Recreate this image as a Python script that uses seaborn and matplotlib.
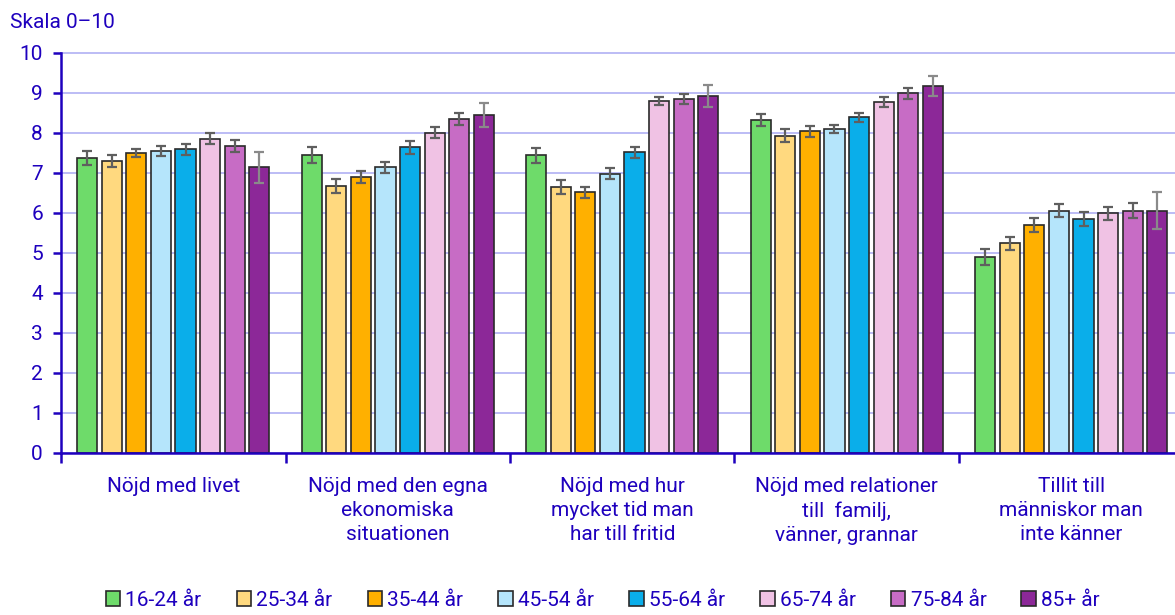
import numpy as np
import pandas as pd
import matplotlib
matplotlib.use("Agg")
import matplotlib.pyplot as plt
import seaborn as sns

sns.set_theme(style="white")
plt.rcParams['font.family'] = ['Roboto', 'DejaVu Sans']

# data (mean and half-width of error bar)
categories = ["Nöjd med livet",
              "Nöjd med den egna\nekonomiska\nsituationen",
              "Nöjd med hur\nmycket tid man\nhar till fritid",
              "Nöjd med relationer\ntill  familj,\nvänner, grannar",
              "Tillit till\nmänniskor man\ninte känner"]
age_groups = ["16-24 år", "25-34 år", "35-44 år", "45-54 år",
              "55-64 år", "65-74 år", "75-84 år", "85+ år"]

values = {
    "16-24 år": [7.37, 7.44, 7.44, 8.32, 4.91],
    "25-34 år": [7.29, 6.68, 6.65, 7.93, 5.24],
    "35-44 år": [7.49, 6.91, 6.52, 8.04, 5.70],
    "45-54 år": [7.55, 7.14, 6.98, 8.09, 6.06],
    "55-64 år": [7.59, 7.64, 7.52, 8.39, 5.85],
    "65-74 år": [7.86, 8.01, 8.80, 8.78, 5.99],
    "75-84 år": [7.68, 8.36, 8.85, 8.99, 6.06],
    "85+ år":   [7.14, 8.44, 8.93, 9.17, 6.06],
}
errors = {
    "16-24 år": [0.17, 0.20, 0.18, 0.15, 0.20],
    "25-34 år": [0.15, 0.18, 0.17, 0.16, 0.17],
    "35-44 år": [0.10, 0.15, 0.14, 0.13, 0.18],
    "45-54 år": [0.12, 0.14, 0.14, 0.10, 0.17],
    "55-64 år": [0.13, 0.16, 0.14, 0.12, 0.17],
    "65-74 år": [0.13, 0.13, 0.10, 0.12, 0.16],
    "75-84 år": [0.15, 0.15, 0.12, 0.13, 0.18],
    "85+ år":   [0.39, 0.30, 0.28, 0.25, 0.46],
}
colors = ["#6EDB6A", "#FFD97F", "#FFB000", "#B5E5FB",
          "#0AAEEA", "#F0C2E4", "#C76CC5", "#8C2898"]

text_col = "#1E00BE"
grid_col = "#A9A9F2"
fs = 15

rows = []
for ag in age_groups:
    for c, v in zip(categories, values[ag]):
        rows.append({"kategori": c, "alder": ag, "varde": v})
df = pd.DataFrame(rows)

fig = plt.figure(figsize=(11.75, 6.15), dpi=100)
W, H = 1175, 615
ax = fig.add_axes([61 / W, (H - 453) / H, (1183.5 - 61) / W, 400 / H])

sns.barplot(data=df, x="kategori", y="varde", hue="alder",
            hue_order=age_groups, order=categories, palette=colors,
            saturation=1, errorbar=None, width=0.875, gap=0.18,
            edgecolor="#2a2a2a", linewidth=1.2, ax=ax)

for ag, cont in zip(age_groups, ax.containers):
    xs = [b.get_x() + b.get_width() / 2 for b in cont]
    ys = [b.get_height() for b in cont]
    ecol = "#8a8a8a" if ag == "85+ år" else "#5f5f5f"
    ax.errorbar(xs, ys, yerr=errors[ag], fmt="none", ecolor=ecol,
                elinewidth=1.6, capsize=3.5, capthick=1.6, zorder=5)

ax.set_ylim(0, 10)
ax.set_xlim(-0.5, 4.5)
ax.set_yticks(range(0, 11))
ax.yaxis.grid(True, color=grid_col, linewidth=1.1)
for gl in ax.get_ygridlines():
    gl.set_clip_on(False)
ax.set_axisbelow(True)
ax.set_xlabel("")
ax.set_ylabel("")

for s in ["top", "right"]:
    ax.spines[s].set_visible(False)
for s in ["left", "bottom"]:
    ax.spines[s].set_color(text_col)
    ax.spines[s].set_linewidth(1.8)

ax.tick_params(axis="y", colors=text_col, labelsize=fs, length=6,
               width=1.8, direction="out", left=True, pad=7)
ax.tick_params(axis="x", which="major", length=0, labelsize=fs,
               labelcolor=text_col, pad=17)
ax.set_xticks(np.arange(-0.5, 5, 1), minor=True)
ax.tick_params(axis="x", which="minor", length=7, width=1.8,
               color=text_col, direction="out", bottom=True)
for lbl in ax.get_xticklabels():
    lbl.set_linespacing(1.35)

handles, labels = ax.get_legend_handles_labels()
ax.get_legend().remove()
fig.legend(handles, labels, loc="lower center", ncol=8,
           bbox_to_anchor=(0.513, -0.022), frameon=False,
           fontsize=fs, labelcolor=text_col, handlelength=0.7,
           handleheight=0.7, handletextpad=0.25, columnspacing=1.68)

fig.text(10 / W, 1 - 22 / H, "Skala 0\u201310", color=text_col,
         fontsize=fs, va="center", ha="left")

fig.savefig("out.png", dpi=100)
